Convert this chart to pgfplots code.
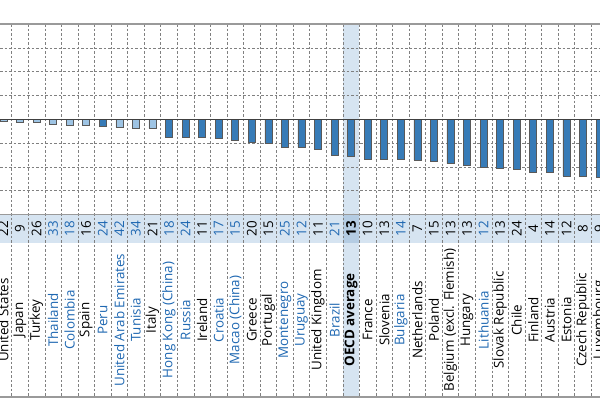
\documentclass[border=0pt]{standalone}
\usepackage{pgfplots}
\pgfplotsset{compat=1.18}
\usepackage{fontspec}
\setmainfont{Open Sans}
\definecolor{pblue}{HTML}{1F68B2}
\definecolor{darkbar}{HTML}{377BB7}
\definecolor{lightbar}{HTML}{9EC4E4}
\definecolor{band}{HTML}{D6E4F1}
\definecolor{bandoecd}{HTML}{B4CCE3}
\definecolor{gridc}{HTML}{808080}
\definecolor{framec}{HTML}{9A9A9A}
\newcommand{\B}[1]{\textcolor{pblue}{#1}}
\begin{document}
\begin{tikzpicture}[x=1bp,y=1bp]
\clip (0,-185.5) rectangle (600,214.5);
\fill[white] (0,-185.5) rectangle (600,214.5);
\fill[band] (0,-28.5) rectangle (600,0);
\fill[band] (342.84,-182.5) rectangle (359.40,190.5);
\fill[bandoecd] (342.84,-28.5) rectangle (359.40,0);
\foreach \k in {-1,...,36} {
  \draw[gridc, dash pattern=on 2.5bp off 2bp, line width=0.55bp] ({(\k+0.705)*16.5586},190.5) -- ({(\k+0.705)*16.5586},-182.5);
}
\begin{axis}[at={(0,0)}, anchor=south west, scale only axis,
  width=600bp, height=190.5bp,
  xmin=-0.205, xmax=36.03, ymin=-20, ymax=20,
  axis line style={draw=none},
  ytick={-15,-10,-5,5,10,15}, yticklabels={}, ymajorgrids,
  grid style={gridc, dash pattern=on 2.5bp off 2bp, line width=0.55bp},
  major tick length=0pt,
  xtick={0,...,36},
  xticklabels={{United States},Japan,Turkey,\B{Thailand},\B{Colombia},Spain,\B{Peru},\B{United Arab Emirates},\B{Tunisia},Italy,\B{Hong Kong (China)},\B{Russia},Ireland,\B{Croatia},\B{Macao (China)},Greece,Portugal,\B{Montenegro},\B{Uruguay},{United Kingdom},\B{Brazil},\textbf{OECD average},France,Slovenia,\B{Bulgaria},Netherlands,Poland,{Belgium (excl. Flemish)},Hungary,\B{Lithuania},{Slovak Republic},Chile,Finland,Austria,Estonia,{Czech Republic},Luxembourg},
  every x tick label/.style={yshift=-105.5bp, rotate=90, anchor=center, inner sep=0pt, font=\fontsize{13.4bp}{16bp}\selectfont},
  extra x ticks={0,...,36},
  extra x tick labels={22,9,26,\B{33},\B{18},16,\B{24},\B{42},\B{34},21,\B{18},\B{24},11,\B{17},\B{15},20,15,\B{25},\B{12},11,\B{21},\textbf{13},10,13,\B{14},7,15,13,13,\B{12},13,24,4,14,12,8,9},
  extra x tick style={/pgfplots/every x tick label/.style={yshift=-14.25bp, rotate=90, anchor=center, inner sep=0pt, font=\fontsize{13.4bp}{16bp}\selectfont}},
  clip=false,
]
\addplot[ybar, bar width=7bp, bar shift=0pt, fill=lightbar, draw=black!65, line width=0.6bp] coordinates {
(0,-0.5) (1,-0.6) (2,-0.7) (3,-1.0) (4,-1.2) (5,-1.3) (7,-1.7) (8,-1.8) (9,-1.9)};
\addplot[ybar, bar width=7bp, bar shift=0pt, fill=darkbar, draw=black!65, line width=0.6bp] coordinates {
(6,-1.5) (10,-3.8) (11,-3.8) (12,-3.8) (13,-4.1) (14,-4.5) (15,-4.9) (16,-5.1) (17,-5.9) (18,-5.9) (19,-6.4) (20,-7.6) (21,-7.7) (22,-8.4) (23,-8.5) (24,-8.5) (25,-8.6) (26,-8.9) (27,-9.3) (28,-9.7) (29,-10.0) (30,-10.4) (31,-10.6) (32,-11.2) (33,-11.2) (34,-11.9) (35,-11.9) (36,-12.1)};
\end{axis}
\draw[framec, line width=1.4bp] (0,190.5) -- (600,190.5);
\draw[framec, line width=1.4bp] (0,0) -- (600,0);
\draw[black!75, line width=0.9bp] (0,95.25) -- (600,95.25);
\draw[framec, line width=1.2bp] (0,-182.5) -- (600,-182.5);
\end{tikzpicture}
\end{document}
